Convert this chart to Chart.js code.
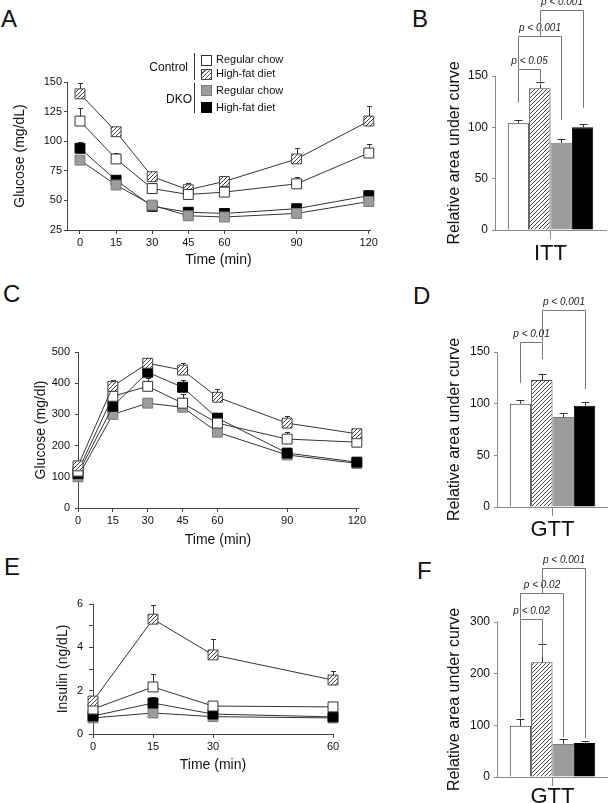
<!DOCTYPE html>
<html>
<head>
<meta charset="utf-8">
<script src="https://cdn.jsdelivr.net/npm/chart.js@4.4.1/dist/chart.umd.min.js"></script>
<style>
  html, body { margin: 0; padding: 0; background: #fff; }
  body {
    width: 608px; height: 803px; position: relative; overflow: hidden;
    font-family: 'Liberation Sans', Arial, Helvetica, sans-serif; color: #111;
  }
  canvas.plot { position: absolute; }
  .letter { position: absolute; font-size: 24px; line-height: 24px; }
  .lg { position: absolute; line-height: 14px; white-space: nowrap; }
  .lg-group { font-size: 12px; text-align: right; }
  .lg-item { font-size: 11px; }
  .lg-bar { position: absolute; width: 1px; background: #333; }
  .lg-box { position: absolute; width: 11px; height: 11px; box-sizing: border-box; border: 1px solid #333; }
</style>
</head>
<body>
<div class="letter" style="left:1px;top:7px">A</div>
<div class="letter" style="left:412px;top:7px">B</div>
<div class="letter" style="left:3px;top:282px">C</div>
<div class="letter" style="left:413px;top:284px">D</div>
<div class="letter" style="left:4px;top:555px">E</div>
<div class="letter" style="left:417px;top:559px">F</div>

<canvas id="chartA" class="plot" width="390" height="215" style="left:0;top:60px"></canvas>
<canvas id="chartB" class="plot" width="168" height="275" style="left:440px;top:0"></canvas>
<canvas id="chartC" class="plot" width="390" height="220" style="left:0;top:330px"></canvas>
<canvas id="chartD" class="plot" width="168" height="275" style="left:440px;top:270px"></canvas>
<canvas id="chartE" class="plot" width="330" height="200" style="left:40px;top:580px"></canvas>
<canvas id="chartF" class="plot" width="168" height="258" style="left:440px;top:545px"></canvas>
<div id="legendA"></div>

<script>
// ---- data ----
const groupNames = ['Control', 'DKO'];
const dietNames = ['Regular chow', 'High-fat diet'];
const seriesNames = ['Control, regular chow', 'Control, high-fat diet', 'DKO, regular chow', 'DKO, high-fat diet'];

// A: insulin tolerance test, glucose (mg/dL)
const ittTime = [0, 15, 30, 45, 60, 90, 120];
const ittCtrlChow = [117, 85, 60, 55, 57, 64, 90];
const ittCtrlChowErr = [11, 5, 5, 3, 3, 6, 8];
const ittCtrlHfd = [140, 108, 70, 59, 66, 85, 117];
const ittCtrlHfdErr = [9, 2, 4, 6, 5, 9, 13];
const ittDkoChow = [84, 63, 46, 37, 36, 39, 49];
const ittDkoChowErr = [3, 4, 3, 2, 2, 3, 3];
const ittDkoHfd = [94, 67, 45, 40, 39, 43, 54];
const ittDkoHfdErr = [5, 3, 2, 2, 3, 4, 4];
const ittTicksX = [0, 15, 30, 45, 60, 90, 120];

// C: glucose tolerance test, glucose (mg/dl)
const gttTime = [0, 15, 30, 45, 60, 90, 120];
const gttCtrlChow = [118, 358, 390, 336, 272, 221, 211];
const gttCtrlChowErr = [8, 14, 28, 29, 15, 22, 10];
const gttCtrlHfd = [135, 390, 464, 442, 355, 272, 238];
const gttCtrlHfdErr = [8, 19, 16, 22, 26, 22, 14];
const gttDkoChow = [100, 300, 336, 323, 243, 170, 143];
const gttDkoChowErr = [5, 8, 16, 10, 8, 6, 5];
const gttDkoHfd = [110, 326, 435, 387, 288, 176, 147];
const gttDkoHfdErr = [6, 15, 16, 23, 16, 16, 8];
const gttTicksX = [0, 15, 30, 45, 60, 90, 120];

// E: insulin during GTT (ng/dL)
const insTime = [0, 15, 30, 60];
const insCtrlChow = [1.15, 2.17, 1.29, 1.25];
const insCtrlChowErr = [0.1, 0.6, 0.15, 0.18];
const insCtrlHfd = [1.52, 5.3, 3.65, 2.49];
const insCtrlHfdErr = [0.15, 0.65, 0.74, 0.42];
const insDkoChow = [0.74, 0.97, 0.8, 0.74];
const insDkoChowErr = [0.05, 0.1, 0.08, 0.06];
const insDkoHfd = [0.83, 1.43, 0.92, 0.79];
const insDkoHfdErr = [0.08, 0.27, 0.1, 0.08];
const insTicksX = [0, 15, 30, 60];

// B, D, F: relative area under curve
const ittAucLabel = ['ITT'];
const ittAuc = [104, 138, 85, 100];
const ittAucErr = [3, 6, 4, 3];
const gttAucLabel = ['GTT'];
const gttAuc = [100, 123, 87, 98];
const gttAucErr = [4, 6, 4, 4];
const insAucLabel = ['GTT'];
const insAuc = [99, 222, 64, 66];
const insAucErr = [13, 35, 9, 4];

// significance brackets (bar indexes, levels in axis units)
const ittBrackets = [
  { from: 0, to: 1, level: 157, fromEnd: 124, toEnd: 141, label: 'p < 0.05' },
  { from: 0, to: 2, level: 189, fromEnd: 157, toEnd: 107, label: 'p < 0.001' },
  { from: 1, to: 3, level: 214, fromEnd: 189, toEnd: 119, label: 'p < 0.001' }
];
const gttBrackets = [
  { from: 0, to: 1, level: 160, fromEnd: 120, toEnd: 143, label: 'p < 0.01' },
  { from: 1, to: 3, level: 191, fromEnd: 160, toEnd: 114, label: 'p < 0.001' }
];
const insBrackets = [
  { from: 0, to: 1, level: 306, fromEnd: 115, toEnd: 232, label: 'p < 0.02' },
  { from: 0, to: 2, level: 356, fromEnd: 306, toEnd: 77, label: 'p < 0.02' },
  { from: 1, to: 3, level: 404, fromEnd: 356, toEnd: 75, label: 'p < 0.001' }
];

// ---- styling ----
const FONT = "'Liberation Sans', Arial, Helvetica, sans-serif";
Chart.defaults.font.family = FONT;
Chart.defaults.color = '#111';

function hatch(size, color) {
  const c = document.createElement('canvas');
  c.width = size; c.height = size;
  const g = c.getContext('2d');
  g.fillStyle = '#fff';
  g.fillRect(0, 0, size, size);
  g.strokeStyle = color;
  g.lineWidth = 1;
  g.beginPath();
  g.moveTo(0, size); g.lineTo(size, 0);
  g.moveTo(-1, 1); g.lineTo(1, -1);
  g.moveTo(size - 1, size + 1); g.lineTo(size + 1, size - 1);
  g.stroke();
  return g.createPattern(c, 'repeat');
}

const fills = ['#ffffff', hatch(4, '#444'), '#9c9c9c', '#000000'];
const edges = ['#333', '#444', '#7a7a7a', '#000'];

// ---- plugins ----
// upper error bars, drawn behind the markers / bars
function errorBars(errs, cap) {
  return {
    id: 'errorBars',
    beforeDatasetsDraw(chart) {
      const ctx = chart.ctx;
      const ys = chart.scales.y;
      ctx.save();
      ctx.strokeStyle = '#333';
      ctx.lineWidth = 1;
      chart.data.datasets.forEach((ds, i) => {
        chart.getDatasetMeta(i).data.forEach((el, j) => {
          const raw = ds.data[j];
          const v = typeof raw === 'object' ? raw.y : raw;
          const top = Math.round(ys.getPixelForValue(v + errs[i][j])) + 0.5;
          const x = Math.round(el.x) + 0.5;
          ctx.beginPath();
          ctx.moveTo(x, el.y);
          ctx.lineTo(x, top);
          ctx.moveTo(x - cap, top);
          ctx.lineTo(x + cap, top);
          ctx.stroke();
        });
      });
      ctx.restore();
    }
  };
}

function brackets(list) {
  return {
    id: 'brackets',
    afterDatasetsDraw(chart) {
      const ctx = chart.ctx;
      const ys = chart.scales.y;
      const cx = i => Math.round(chart.getDatasetMeta(i).data[0].x) + 0.5;
      ctx.save();
      ctx.strokeStyle = '#777';
      ctx.lineWidth = 1;
      ctx.fillStyle = '#222';
      ctx.font = 'italic 10px ' + FONT;
      ctx.textAlign = 'center';
      ctx.textBaseline = 'middle';
      list.forEach(b => {
        const x1 = cx(b.from), x2 = cx(b.to);
        const yl = Math.round(ys.getPixelForValue(b.level)) + 0.5;
        ctx.beginPath();
        ctx.moveTo(x1, ys.getPixelForValue(b.fromEnd));
        ctx.lineTo(x1, yl);
        ctx.lineTo(x2, yl);
        ctx.lineTo(x2, ys.getPixelForValue(b.toEnd));
        ctx.stroke();
        ctx.fillText(b.label, (x1 + x2) / 2, yl - 8);
      });
      ctx.restore();
    }
  };
}

// ---- chart builders ----
function lineChart(id, p) {
  const datasets = p.series.map((vals, i) => ({
    label: seriesNames[i],
    data: p.time.map((t, k) => ({ x: t, y: vals[k] })),
    borderColor: '#333',
    borderWidth: 1,
    pointStyle: 'rect',
    pointRadius: 7,
    pointBackgroundColor: fills[i],
    pointBorderColor: edges[i],
    pointBorderWidth: 1,
    tension: 0,
    clip: false,
    order: p.order ? p.order[i] : i
  }));
  const axisColor = '#444';
  return new Chart(document.getElementById(id), {
    type: 'line',
    data: { datasets },
    options: {
      responsive: false,
      animation: false,
      layout: { padding: p.pad },
      plugins: { legend: { display: false }, tooltip: { enabled: false } },
      scales: {
        x: {
          type: 'linear', min: p.xMin, max: p.xMax,
          afterBuildTicks: s => { s.ticks = p.xTicks.map(v => ({ value: v })); },
          afterFit: s => { s.height = p.xH; },
          grid: { drawOnChartArea: false, tickLength: 4, color: axisColor },
          border: { color: axisColor },
          ticks: { font: { size: 11 }, padding: 2, color: '#111', maxRotation: 0 },
          title: { display: true, text: 'Time (min)', font: { size: 14 }, color: '#111', padding: { top: 0, bottom: p.xTitlePad } }
        },
        y: {
          min: p.yMin, max: p.yMax,
          ticks: { stepSize: p.yStep, font: { size: 11 }, padding: p.yTickPad, color: '#111',
                   callback: p.yLabel || (v => v) },
          afterFit: s => { s.width = p.yW; },
          grid: { drawOnChartArea: false, tickLength: p.yTickLen, color: axisColor },
          border: { color: axisColor },
          title: { display: true, text: p.yTitle, font: { size: 14 }, color: '#111', padding: { top: p.yTitlePad, bottom: 0 } }
        }
      }
    },
    plugins: [errorBars(p.errs, 2.5)]
  });
}

function barChart(id, p) {
  const datasets = p.values.map((v, i) => ({
    label: seriesNames[i],
    data: [v],
    backgroundColor: fills[i],
    borderColor: edges[i],
    borderWidth: 1,
    categoryPercentage: 0.77,
    barPercentage: 1,
    clip: false
  }));
  const axisColor = '#8a8a8a';
  return new Chart(document.getElementById(id), {
    type: 'bar',
    data: { labels: p.label, datasets },
    options: {
      responsive: false,
      animation: false,
      layout: { padding: p.pad },
      plugins: { legend: { display: false }, tooltip: { enabled: false } },
      scales: {
        x: {
          afterFit: s => { s.height = p.xH; },
          grid: { drawOnChartArea: false, offset: false, tickLength: 9, color: axisColor },
          border: { color: axisColor },
          ticks: { font: { size: 22, lineHeight: 1 }, padding: p.xTickPad, color: '#111' }
        },
        y: {
          min: 0, max: p.yMax,
          ticks: { stepSize: p.yStep, font: { size: 12 }, padding: 4, color: '#111' },
          afterFit: s => { s.width = p.yW; },
          grid: { drawOnChartArea: false, tickLength: 3, color: axisColor },
          border: { color: axisColor },
          title: { display: true, text: 'Relative area under curve', font: { size: 16 }, color: '#111', padding: { top: 5, bottom: 0 } }
        }
      }
    },
    plugins: [errorBars(p.errs.map(e => [e]), 4), brackets(p.brackets)]
  });
}

// ---- panels ----
lineChart('chartA', {
  time: ittTime,
  series: [ittCtrlChow, ittCtrlHfd, ittDkoChow, ittDkoHfd],
  errs: [ittCtrlChowErr, ittCtrlHfdErr, ittDkoChowErr, ittDkoHfdErr],
  xMin: -5.4, xMax: 120.5, xTicks: ittTicksX,
  yMin: 25, yMax: 150, yStep: 25,
  yTitle: 'Glucose (mg/dL)',
  pad: { top: 22, right: 20, left: 0, bottom: 0 },
  xH: 45, yW: 67, yTickLen: 3, yTickPad: 2, yTitlePad: 11.6, xTitlePad: 6.6
});

lineChart('chartC', {
  time: gttTime,
  series: [gttCtrlChow, gttCtrlHfd, gttDkoChow, gttDkoHfd],
  errs: [gttCtrlChowErr, gttCtrlHfdErr, gttDkoChowErr, gttDkoHfdErr],
  order: [1, 0, 3, 2],
  xMin: 0, xMax: 120.5, xTicks: gttTicksX,
  yMin: 0, yMax: 500, yStep: 100,
  yTitle: 'Glucose (mg/dl)',
  pad: { top: 22, right: 32, left: 0, bottom: 0 },
  xH: 42, yW: 78, yTickLen: 3, yTickPad: 5, yTitlePad: 32.6, xTitlePad: 1.6
});

lineChart('chartE', {
  time: insTime,
  series: [insCtrlChow, insCtrlHfd, insDkoChow, insDkoHfd],
  errs: [insCtrlChowErr, insCtrlHfdErr, insDkoChowErr, insDkoHfdErr],
  order: [1, 0, 3, 2],
  xMin: 0, xMax: 60, xTicks: insTicksX,
  yMin: 0, yMax: 6, yStep: 1,
  yLabel: v => (v % 2 === 0 ? v : ''),
  yTitle: 'Insulin (ng/dL)',
  pad: { top: 24, right: 37, left: 0, bottom: 0 },
  xH: 46, yW: 53, yTickLen: 4, yTickPad: 6, yTitlePad: 14.6, xTitlePad: 6.6
});

barChart('chartB', {
  label: ittAucLabel, values: ittAuc, errs: ittAucErr, brackets: ittBrackets,
  yMax: 150, yStep: 50, pad: { top: 76, right: 2, left: 0, bottom: 0 },
  xH: 45, yW: 55, xTickPad: 4
});

barChart('chartD', {
  label: gttAucLabel, values: gttAuc, errs: gttAucErr, brackets: gttBrackets,
  yMax: 150, yStep: 50, pad: { top: 82, right: 0, left: 0, bottom: 0 },
  xH: 38, yW: 57, xTickPad: 3
});

barChart('chartF', {
  label: insAucLabel, values: insAuc, errs: insAucErr, brackets: insBrackets,
  yMax: 300, yStep: 100, pad: { top: 77, right: 0, left: 0, bottom: 0 },
  xH: 26, yW: 57, xTickPad: 0
});

// ---- legend for panel A ----
(function buildLegend() {
  const host = document.getElementById('legendA');
  const css = ['#fff', 'repeating-linear-gradient(135deg, #fff 0 2px, #555 2px 3px)', '#9c9c9c', '#000'];
  const groupTop = [53, 83];
  const groupH = [27, 30];
  const groupCenter = [67, 99];
  const groupRight = [188, 192];
  const itemCenter = [[59, 73], [90, 107]];
  const boxTop = [[55, 69], [85, 102]];
  let html = '';
  groupNames.forEach((g, gi) => {
    html += `<div class="lg lg-group" style="left:${groupRight[gi] - 70}px;width:70px;top:${groupCenter[gi] - 7}px">${g}</div>`;
    html += `<div class="lg-bar" style="left:194px;top:${groupTop[gi]}px;height:${groupH[gi]}px"></div>`;
    dietNames.forEach((d, di) => {
      const k = gi * 2 + di;
      html += `<div class="lg-box" style="left:201px;top:${boxTop[gi][di]}px;background:${css[k]};border-color:${edges[k]}"></div>`;
      html += `<div class="lg lg-item" style="left:216px;top:${itemCenter[gi][di] - 7}px">${d}</div>`;
    });
  });
  host.innerHTML = html;
})();
</script>
</body>
</html>
